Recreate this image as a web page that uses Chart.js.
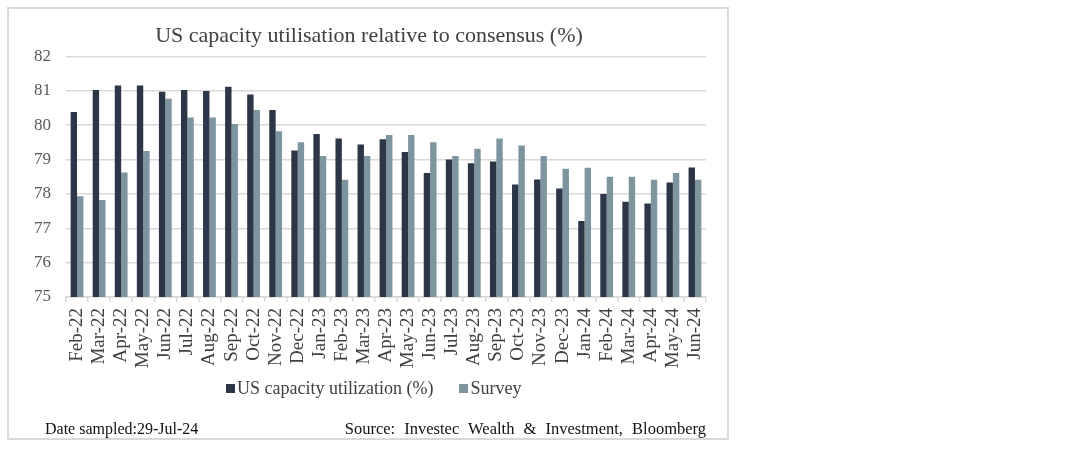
<!DOCTYPE html>
<html>
<head>
<meta charset="utf-8">
<script src="https://cdn.jsdelivr.net/npm/chart.js@4.4.1/dist/chart.umd.min.js"></script>
<style>
  body { margin: 0; background: #fff; width: 1088px; height: 450px; overflow: hidden; }
  #frame { position: absolute; left: 7px; top: 7px; width: 722px; height: 433px; box-sizing: border-box; border: 2px solid #d9d9d9; }
  #wrap { position: absolute; left: 0; top: 0; width: 730px; height: 445px; }
  .txt { position: absolute; font-family: "Liberation Serif", "Times New Roman", serif; white-space: nowrap; }
  #legend { left: 226px; top: 377px; font-size: 18px; line-height: 22px; color: #404040; }
  #legend span.box { display: inline-block; width: 9px; height: 9px; margin-right: 2px; vertical-align: 1px; }
  #dateNote { left: 45px; top: 419px; font-size: 16px; line-height: 20px; color: #111; }
  #source { right: 382px; top: 419px; font-size: 16.5px; line-height: 20px; color: #111; word-spacing: 5px; }
</style>
</head>
<body>
<div id="frame"></div>
<div id="wrap"><canvas id="capChart"></canvas></div>
<div class="txt" id="legend">
  <span class="box" style="background:#2c3647"></span>US capacity utilization (%)<span style="display:inline-block;width:26px"></span><span class="box" style="background:#7e95a0"></span>Survey
</div>
<div class="txt" id="dateNote">Date sampled:29-Jul-24</div>
<div class="txt" id="source">Source: Investec Wealth &amp; Investment, Bloomberg</div>

<script>
// dados
const meses = ['Feb-22', 'Mar-22', 'Apr-22', 'May-22', 'Jun-22', 'Jul-22', 'Aug-22', 'Sep-22', 'Oct-22', 'Nov-22', 'Dec-22',
  'Jan-23', 'Feb-23', 'Mar-23', 'Apr-23', 'May-23', 'Jun-23', 'Jul-23', 'Aug-23', 'Sep-23', 'Oct-23', 'Nov-23', 'Dec-23',
  'Jan-24', 'Feb-24', 'Mar-24', 'Apr-24', 'May-24', 'Jun-24'];

const utilizacao = [80.38, 81.02, 81.15, 81.15, 80.97, 81.02, 80.99, 81.12, 80.89, 80.44, 79.26,
  79.74, 79.61, 79.44, 79.59, 79.22, 78.61, 79.00, 78.89, 78.94, 78.27, 78.42, 78.16,
  77.21, 78.00, 77.77, 77.72, 78.33, 78.77];

const pesquisa = [77.93, 77.82, 78.62, 79.25, 80.77, 80.22, 80.22, 80.03, 80.44, 79.82, 79.50,
  79.10, 78.41, 79.10, 79.71, 79.71, 79.50, 79.10, 79.31, 79.61, 79.41, 79.10, 78.73,
  78.76, 78.50, 78.50, 78.41, 78.61, 78.41];

const yMin = 75;
const yMax = 82;
const yPasso = 1;

const corEscura = '#2c3647';
const corClara = '#7e95a0';
const corGrade = '#d9d9d9';

Chart.defaults.font.family = "'Liberation Serif', 'Times New Roman', serif";

const ctx = document.getElementById('capChart').getContext('2d');
new Chart(ctx, {
    type: 'bar',
    data: {
        labels: meses,
        datasets: [
            {
                label: 'US capacity utilization (%)',
                data: utilizacao,
                backgroundColor: corEscura,
                borderWidth: 0
            },
            {
                label: 'Survey',
                data: pesquisa,
                backgroundColor: corClara,
                borderWidth: 0
            }
        ]
    },
    options: {
        responsive: true,
        maintainAspectRatio: false,
        animation: false,
        devicePixelRatio: 1,
        datasets: { bar: { categoryPercentage: 0.58, barPercentage: 1.0 } },
        layout: { padding: { left: 32, right: 24, top: 0, bottom: 73 } },
        plugins: {
            legend: { display: false },
            tooltip: { enabled: false },
            title: {
                display: true,
                text: 'US capacity utilisation relative to consensus (%)',
                color: '#404040',
                font: { size: 22, weight: 'normal' },
                padding: { top: 23, bottom: 7 }
            }
        },
        scales: {
            x: {
                grid: { display: true, drawOnChartArea: false, drawTicks: true, tickLength: 5, color: corGrade, lineWidth: 1.5 },
                border: { display: true, color: corGrade, width: 1.5 },
                ticks: {
                    autoSkip: false,
                    minRotation: 90,
                    maxRotation: 90,
                    padding: 6,
                    color: '#404040',
                    font: { size: 19 }
                },
                afterFit: (scale) => { scale.height = 75; }
            },
            y: {
                min: yMin,
                max: yMax,
                ticks: { stepSize: yPasso, padding: 15, color: '#595959', font: { size: 17 } },
                grid: { color: corGrade, lineWidth: 1.5, drawTicks: false },
                border: { display: false },
                afterFit: (scale) => { scale.width = 34; }
            }
        }
    }
});
</script>
</body>
</html>
